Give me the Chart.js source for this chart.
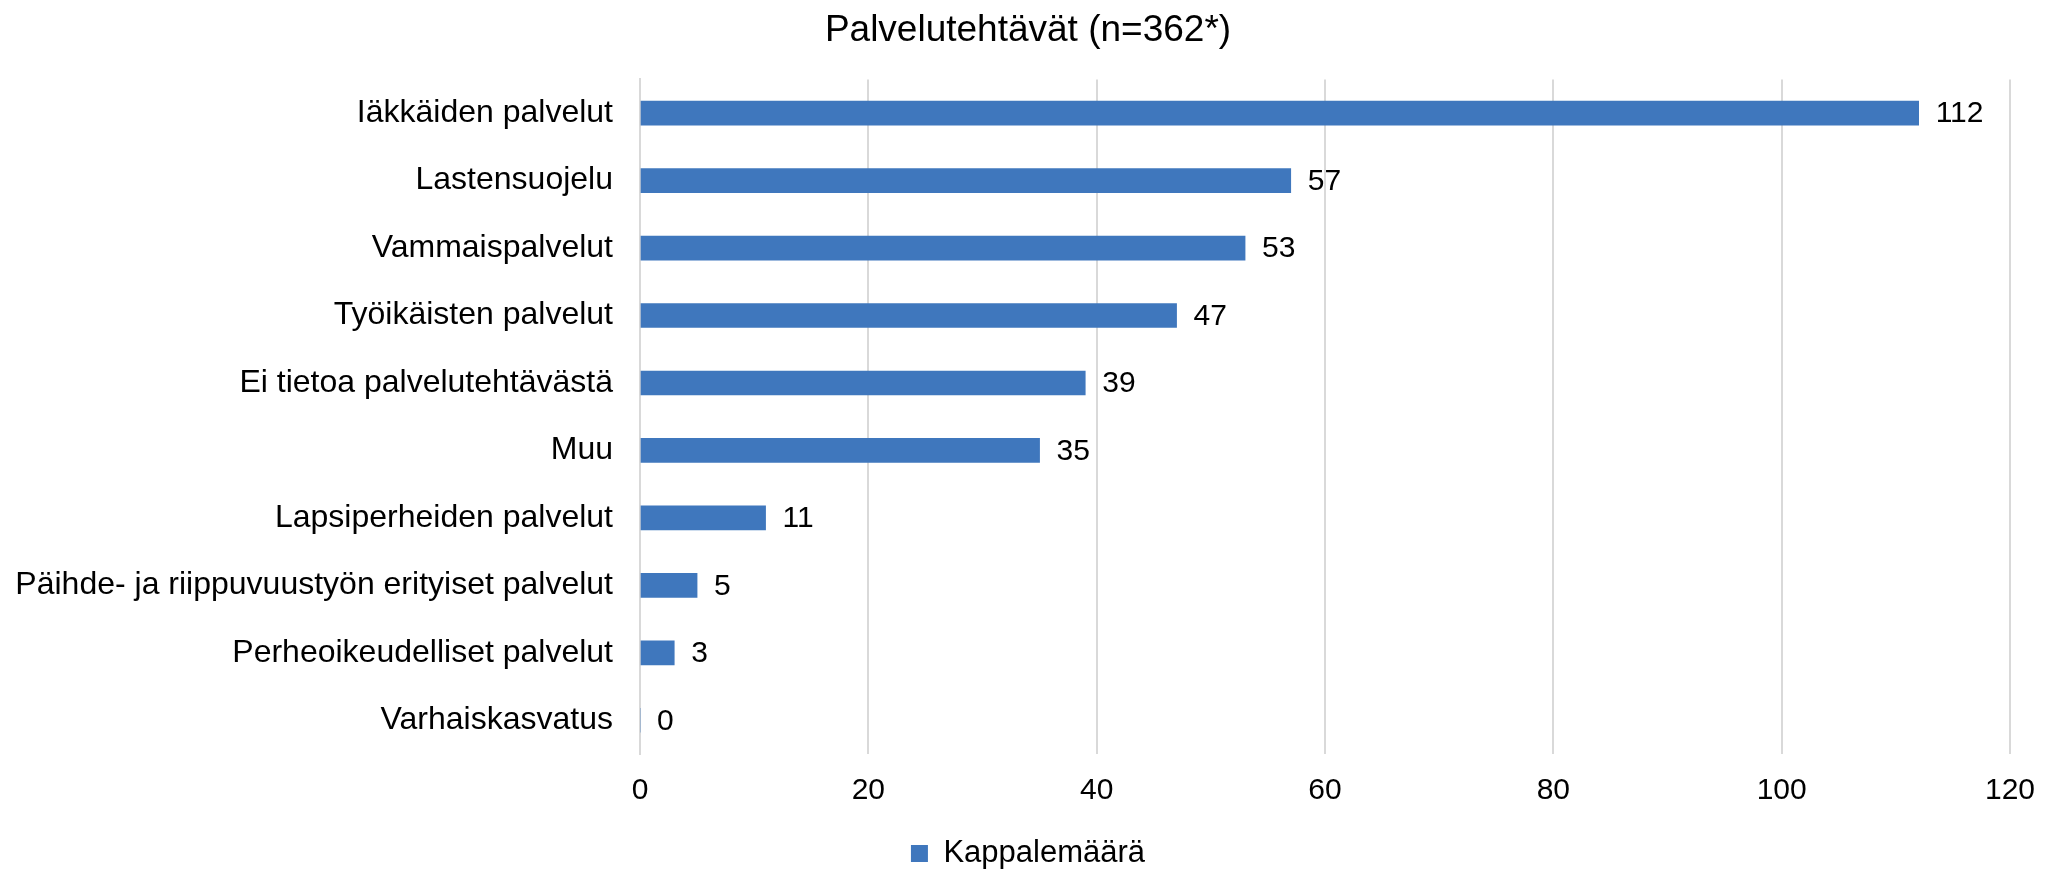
<!DOCTYPE html>
<html>
<head>
<meta charset="utf-8">
<script src="https://cdn.jsdelivr.net/npm/chart.js@4"></script>
<style>
  html, body { margin: 0; padding: 0; background: #fff; overflow: hidden; }
  #wrap { width: 2056px; height: 870px; }
</style>
</head>
<body>
<div id="wrap"><canvas id="palvelut-chart" width="2056" height="870"></canvas></div>
<script>
// data for chart
const CATEGORIES = [
    'Iäkkäiden palvelut',
    'Lastensuojelu',
    'Vammaispalvelut',
    'Työikäisten palvelut',
    'Ei tietoa palvelutehtävästä',
    'Muu',
    'Lapsiperheiden palvelut',
    'Päihde- ja riippuvuustyön erityiset palvelut',
    'Perheoikeudelliset palvelut',
    'Varhaiskasvatus'
];
const COUNTS = [112, 57, 53, 47, 39, 35, 11, 5, 3, 0];
const X_TICKS = [0, 20, 40, 60, 80, 100, 120];
const SERIES_NAME = 'Kappalemäärä';
const TITLE_TEXT = 'Palvelutehtävät (n=362*)';

const FONT = '"Liberation Sans", Arial, sans-serif';
const BAR_COLOR = '#3f77bd';
const GRID_COLOR = '#d9d9d9';

// value labels at the end of each bar
const valueLabels = {
    id: 'valueLabels',
    afterDatasetsDraw(chart) {
        const ctx = chart.ctx;
        const meta = chart.getDatasetMeta(0);
        ctx.save();
        ctx.font = '30px ' + FONT;
        ctx.fillStyle = '#000';
        ctx.textAlign = 'left';
        ctx.textBaseline = 'middle';
        meta.data.forEach((bar, i) => {
            ctx.fillText(String(chart.data.datasets[0].data[i]), bar.x + 17, bar.y + 1);
        });
        ctx.restore();
    }
};

const CTX = document.getElementById('palvelut-chart').getContext('2d');

const palvelutChart = new Chart(CTX, {
    type: 'bar',
    data: {
        labels: CATEGORIES,
        datasets: [{
            label: SERIES_NAME,
            data: COUNTS,
            backgroundColor: BAR_COLOR,
            borderWidth: 0,
            barThickness: 24
        }]
    },
    options: {
        indexAxis: 'y',
        responsive: false,
        animation: false,
        devicePixelRatio: 1,
        layout: {
            padding: { top: 0, left: 0, right: 0, bottom: -9 }
        },
        plugins: {
            title: {
                display: true,
                text: TITLE_TEXT,
                color: '#000',
                font: { family: FONT, size: 37, weight: 'normal' },
                padding: { top: 9, bottom: 26 }
            },
            legend: {
                display: true,
                position: 'bottom',
                labels: {
                    color: '#000',
                    font: { family: FONT, size: 31 },
                    boxWidth: 17,
                    boxHeight: 17,
                    padding: 10
                }
            },
            tooltip: { enabled: false }
        },
        scales: {
            x: {
                min: X_TICKS[0],
                max: X_TICKS[X_TICKS.length - 1],
                afterBuildTicks(scale) {
                    scale.ticks = X_TICKS.map(v => ({ value: v }));
                },
                afterFit(scale) {
                    scale.height = 74;
                },
                grid: {
                    color: GRID_COLOR,
                    lineWidth: 2,
                    drawTicks: false
                },
                border: { display: false },
                ticks: {
                    color: '#000',
                    font: { family: FONT, size: 30 },
                    padding: 19,
                    maxRotation: 0
                }
            },
            y: {
                afterFit(scale) {
                    scale.width = 640;
                },
                grid: { display: false, drawTicks: false },
                border: { display: true, color: GRID_COLOR, width: 2 },
                ticks: {
                    color: '#000',
                    font: { family: FONT, size: 32 },
                    padding: 27
                }
            },
            // empty right margin so title and legend stay centred on the canvas
            yRight: {
                type: 'linear',
                position: 'right',
                afterFit(scale) {
                    scale.width = 46;
                },
                grid: { display: false, drawTicks: false },
                border: { display: false },
                ticks: { display: false }
            }
        }
    },
    plugins: [valueLabels]
});
</script>
</body>
</html>
